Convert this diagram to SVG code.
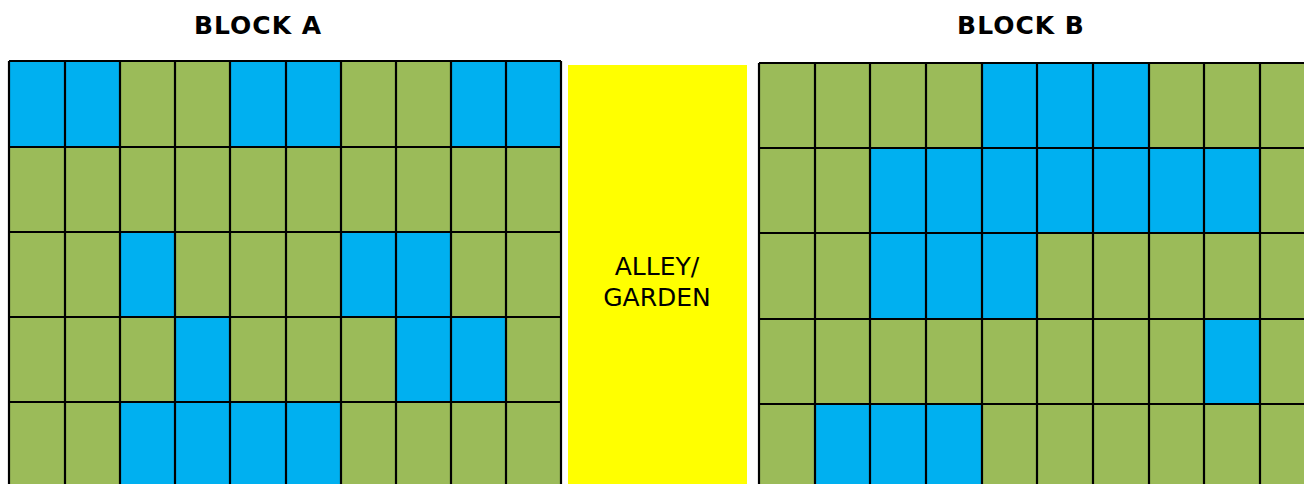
<svg xmlns="http://www.w3.org/2000/svg" width="1304" height="484" viewBox="0 0 1304 484">
<style>
.title{font-family:"DejaVu Sans",Verdana,sans-serif;font-weight:bold;font-size:25px;letter-spacing:1px;fill:#000;text-anchor:middle}
.lbl{font-family:"DejaVu Sans",Verdana,sans-serif;font-size:25px;fill:#000;text-anchor:middle}
.g{fill:#9BBB59}
.b{fill:#00B0F0}
.grid{fill:none;stroke:#000;stroke-width:2.2}
</style>
<rect width="1304" height="484" fill="#fff"/>
<g id="blockA">
<text class="title" x="258" y="34">BLOCK A</text>
<rect class="g" x="9" y="61" width="552" height="426"/>
<rect class="b" x="9" y="61" width="111" height="86"/>
<rect class="b" x="230" y="61" width="111" height="86"/>
<rect class="b" x="451" y="61" width="110" height="86"/>
<rect class="b" x="120" y="232" width="55" height="85"/>
<rect class="b" x="341" y="232" width="110" height="85"/>
<rect class="b" x="175" y="317" width="55" height="85"/>
<rect class="b" x="396" y="317" width="110" height="85"/>
<rect class="b" x="120" y="402" width="221" height="85"/>
<path class="grid" d="M9 61V487M65 61V487M120 61V487M175 61V487M230 61V487M286 61V487M341 61V487M396 61V487M451 61V487M506 61V487M561 61V487M9 61H561M9 147H561M9 232H561M9 317H561M9 402H561"/>
</g>
<g id="alley">
<rect x="568" y="65" width="179" height="425" fill="#FFFF00"/>
<text class="lbl" x="657" y="275">ALLEY/</text>
<text class="lbl" x="657" y="306">GARDEN</text>
</g>
<g id="blockB">
<text class="title" x="1021" y="34">BLOCK B</text>
<rect class="g" x="759" y="63" width="556" height="426"/>
<rect class="b" x="982" y="63" width="167" height="85"/>
<rect class="b" x="870" y="148" width="390" height="85"/>
<rect class="b" x="870" y="233" width="168" height="86"/>
<rect class="b" x="1204" y="319" width="56" height="85"/>
<rect class="b" x="815" y="404" width="167" height="85"/>
<path class="grid" d="M759 63V489M815 63V489M870 63V489M926 63V489M982 63V489M1037 63V489M1093 63V489M1149 63V489M1204 63V489M1260 63V489M1315 63V489M759 63H1316M759 148H1316M759 233H1316M759 319H1316M759 404H1316"/>
</g>
</svg>
